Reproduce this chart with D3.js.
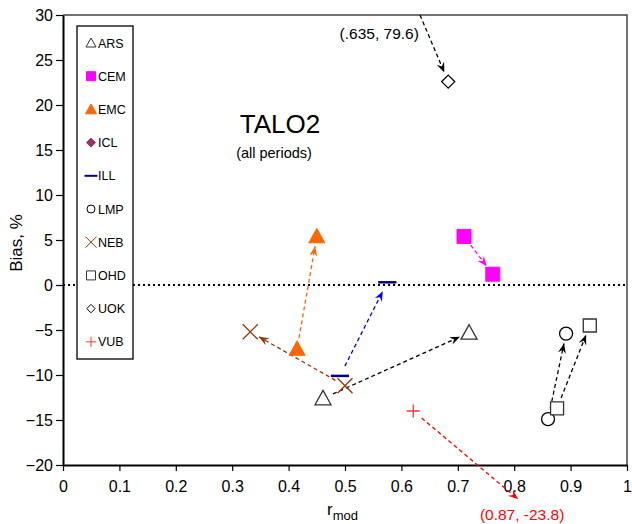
<!DOCTYPE html>
<html>
<head>
<meta charset="utf-8">
<script src="https://cdn.jsdelivr.net/npm/d3@7"></script>
<style>
  body { margin: 0; background: #fff; }
  svg { font-family: "Liberation Sans", Arial, sans-serif; }
</style>
</head>
<body>
<div id="chart"></div>
<script>
// lab names (legend order)
var labs = ["ARS", "CEM", "EMC", "ICL", "ILL", "LMP", "NEB", "OHD", "UOK", "VUB"];
var labColor = ["#333", "#ff00ff", "#ff6600", "#993366", "#000080", "#000", "#993300", "#333", "#000", "#ff3333"];
var arrowColor = ["#000", "#ff00ff", "#ff6600", "#993366", "#0000ff", "#000", "#993300", "#000", "#000", "#ff0000"];

// first period -> second period (r_mod, bias %); ICL has no points
// UOK start and VUB end are off the chart: these are where the arrows are drawn to
var startR    = [0.461, 0.711, 0.415, null, 0.491, 0.860, 0.500, 0.876, 0.633, 0.621];
var startBias = [-12.6, 5.4, -7.1, null, -10.1, -14.9, -11.2, -13.7, 30, -14.0];
var endR      = [0.720, 0.762, 0.450, null, 0.575, 0.892, 0.332, 0.934, 0.683, 0.807];
var endBias   = [-5.3, 1.2, 5.4, null, 0.3, -5.4, -5.2, -4.5, 22.6, -23.8];
var offChart  = { UOK: "start", VUB: "end" };

// notes for the off-chart points
var noteText = ["(.635, 79.6)", "(0.87, -23.8)"];
var noteR    = [0.631, 0.814];
var noteBias = [27.3, -26.1];
var noteColor = ["#000", "#ff0000"];

var xTicks = [0, 0.1, 0.2, 0.3, 0.4, 0.5, 0.6, 0.7, 0.8, 0.9, 1];
var yTicks = [-20, -15, -10, -5, 0, 5, 10, 15, 20, 25, 30];

var W = 632, H = 524;
var margin = { top: 15, right: 5, bottom: 59, left: 63 };
var width = W - margin.left - margin.right,
    height = H - margin.top - margin.bottom;

var svg = d3.select("#chart").append("svg")
  .attr("width", W)
  .attr("height", H);

var x = d3.scaleLinear().domain([0, 1]).range([margin.left, margin.left + width]);
var y = d3.scaleLinear().domain([-20, 30]).range([margin.top + height, margin.top]);

// frame top / right
svg.append("path")
  .attr("d", "M" + x(0) + "," + y(30) + "H" + x(1) + "V" + y(-20))
  .attr("fill", "none").attr("stroke", "#444").attr("stroke-width", 1.5);

// axes
var xAxis = d3.axisBottom(x).tickValues(xTicks).tickSize(6).tickSizeOuter(0)
  .tickFormat(function(d) { return d === 0 || d === 1 ? d3.format("d")(d) : d3.format(".1f")(d); });
var yAxis = d3.axisLeft(y).tickValues(yTicks).tickSize(7).tickSizeOuter(0);

var gX = svg.append("g")
  .attr("transform", "translate(0," + y(-20) + ")")
  .call(xAxis);
var gY = svg.append("g")
  .attr("transform", "translate(" + x(0) + ",0)")
  .call(yAxis);

[gX, gY].forEach(function(g) {
  g.select(".domain").attr("stroke", "#000").attr("stroke-width", 2);
  g.selectAll(".tick line").attr("stroke", "#000").attr("stroke-width", 1.2);
  g.selectAll(".tick text").attr("fill", "#000").style("font-size", "16px")
    .style("font-family", "'Liberation Sans', Arial, sans-serif");
});
gX.selectAll(".tick text").attr("y", 9).attr("dy", "1.1em");
gY.selectAll(".tick text").attr("x", -10);

// axis titles
svg.append("text")
  .attr("transform", "translate(22,243) rotate(-90)")
  .attr("text-anchor", "middle")
  .style("font-size", "17px")
  .text("Bias, %");

var xl = svg.append("text")
  .attr("x", 327)
  .attr("y", 515)
  .style("font-size", "17px")
  .text("r");
xl.append("tspan").attr("dy", 5).style("font-size", "13px").text("mod");

// zero line
svg.append("line")
  .attr("x1", x(0)).attr("x2", x(1))
  .attr("y1", y(0)).attr("y2", y(0))
  .attr("stroke", "#000").attr("stroke-width", 2)
  .attr("stroke-dasharray", "2,3");

// title
svg.append("text")
  .attr("x", 280).attr("y", 133)
  .attr("text-anchor", "middle")
  .style("font-size", "26px")
  .text("TALO2");
svg.append("text")
  .attr("x", 274).attr("y", 158)
  .attr("text-anchor", "middle")
  .style("font-size", "14.5px")
  .text("(all periods)");

// marker shapes
function shape(lab, s) {
  // s = half size
  switch (lab) {
    case "ARS":
    case "EMC":
      return "M0," + (-s) + "L" + s + "," + (s * 0.8) + "L" + (-s) + "," + (s * 0.8) + "Z";
    case "CEM":
    case "OHD":
      return "M" + (-s) + "," + (-s) + "H" + s + "V" + s + "H" + (-s) + "Z";
    case "ICL":
    case "UOK":
      return "M0," + (-s) + "L" + s + ",0L0," + s + "L" + (-s) + ",0Z";
    case "ILL":
      return "M" + (-s * 1.3) + ",0H" + (s * 1.3);
    case "LMP":
      return "M" + (-s) + ",0A" + s + "," + s + " 0 1,0 " + s + ",0A" + s + "," + s + " 0 1,0 " + (-s) + ",0Z";
    case "NEB":
      return "M" + (-s) + "," + (-s) + "L" + s + "," + s + "M" + s + "," + (-s) + "L" + (-s) + "," + s;
    case "VUB":
      return "M" + (-s) + ",0H" + s + "M0," + (-s) + "V" + s;
  }
}
var filled = { CEM: true, EMC: true, ICL: true };

function styleMark(sel, i, big) {
  var lab = labs[i];
  var c = labColor[i];
  if (filled[lab]) {
    sel.attr("fill", c).attr("stroke", c).attr("stroke-width", 1);
  } else {
    sel.attr("fill", lab === "ILL" || lab === "NEB" || lab === "VUB" ? "none" : "#fff")
      .attr("stroke", c)
      .attr("stroke-width", lab === "ILL" ? (big ? 2.5 : 2) : (big ? 1.3 : 1));
  }
}

// arrowheads
var defs = svg.append("defs");
arrowColor.forEach(function(c, i) {
  defs.append("marker")
    .attr("id", "ah" + i)
    .attr("viewBox", "0 0 10 10")
    .attr("refX", 10).attr("refY", 5)
    .attr("markerUnits", "userSpaceOnUse")
    .attr("markerWidth", 10).attr("markerHeight", 10)
    .attr("orient", "auto")
    .append("path")
    .attr("d", "M0,1 L10,5 L0,9 L3.5,5 Z")
    .attr("fill", c);
});

// arrows
labs.forEach(function(lab, i) {
  if (startR[i] === null) return;
  var x1 = x(startR[i]), y1 = y(startBias[i]),
      x2 = x(endR[i]), y2 = y(endBias[i]);
  var dx = x2 - x1, dy = y2 - y1, len = Math.sqrt(dx * dx + dy * dy);
  var s0 = offChart[lab] === "start" ? 0 : 11;
  var s1 = offChart[lab] === "end" ? 0 : 10;
  svg.append("line")
    .attr("x1", x1 + dx / len * s0).attr("y1", y1 + dy / len * s0)
    .attr("x2", x2 - dx / len * s1).attr("y2", y2 - dy / len * s1)
    .attr("stroke", arrowColor[i])
    .attr("stroke-width", 1.3)
    .attr("stroke-dasharray", "4,3")
    .attr("marker-end", "url(#ah" + i + ")");
});

// points
labs.forEach(function(lab, i) {
  if (startR[i] === null) return;
  var size = { ARS: 8, EMC: 8, CEM: 7, OHD: 6.5, LMP: 6.5, UOK: 6.5, ILL: 7, NEB: 7.5, VUB: 6.5, ICL: 6 }[lab];
  var pts = [];
  if (offChart[lab] !== "start") pts.push([startR[i], startBias[i]]);
  if (offChart[lab] !== "end") pts.push([endR[i], endBias[i]]);
  pts.forEach(function(p) {
    svg.append("path")
      .attr("transform", "translate(" + x(p[0]) + "," + y(p[1]) + ")")
      .attr("d", shape(lab, size))
      .call(styleMark, i, true);
  });
});

// off-chart notes
noteText.forEach(function(t, i) {
  svg.append("text")
    .attr("x", x(noteR[i])).attr("y", y(noteBias[i]))
    .attr("text-anchor", i === 0 ? "end" : "middle")
    .attr("fill", noteColor[i])
    .style("font-size", "15.5px")
    .text(t);
});

// legend
var lg = svg.append("g");
lg.append("rect")
  .attr("x", 77).attr("y", 26)
  .attr("width", 56).attr("height", 333)
  .attr("fill", "#fff").attr("stroke", "#000").attr("stroke-width", 1.3);

labs.forEach(function(lab, i) {
  var yy = 43 + i * 33.2;
  var ls = { ARS: 5, EMC: 5.5, CEM: 4.5, OHD: 4.5, LMP: 4, UOK: 4.2, ILL: 5, NEB: 5.5, VUB: 5, ICL: 4.5 }[lab];
  lg.append("path")
    .attr("transform", "translate(91," + yy + ")")
    .attr("d", shape(lab, ls))
    .call(styleMark, i, false);
  lg.append("text")
    .attr("x", 98).attr("y", yy + 4.5)
    .style("font-size", "12.5px")
    .text(lab);
});
</script>
</body>
</html>
